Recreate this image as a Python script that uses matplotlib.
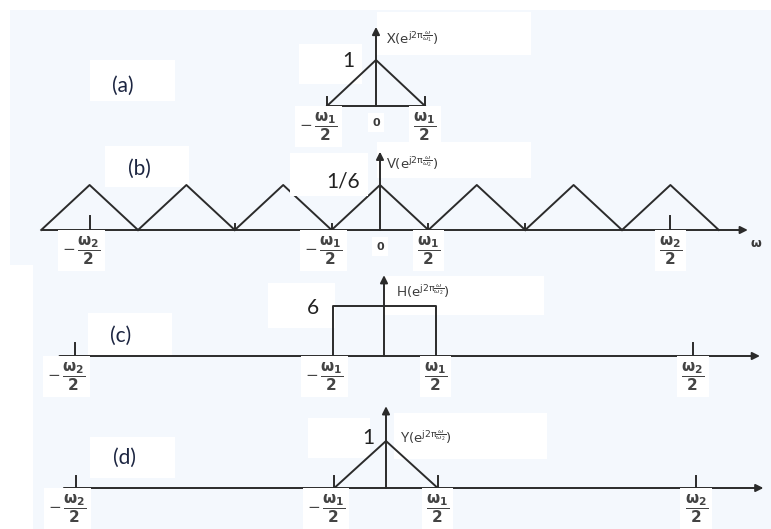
import matplotlib.pyplot as plt
from matplotlib.patches import Rectangle

W, H = 771, 529
LINE = '#2b2b2b'
TEXT = '#3a3a3a'
NAVY = '#1c2541'
BG = '#f4f8fd'

plt.rcParams['font.family'] = ['Lato', 'DejaVu Sans']
plt.rcParams['mathtext.fontset'] = 'dejavusans'

# frequency axis in units of w1/2, so w1/2 -> 1 and w2/2 -> 6
W1 = r'$\dfrac{\mathbf{\omega_1}}{\mathbf{2}}$'
MW1 = r'$-\,\dfrac{\mathbf{\omega_1}}{\mathbf{2}}$'
W2 = r'$\dfrac{\mathbf{\omega_2}}{\mathbf{2}}$'
MW2 = r'$-\,\dfrac{\mathbf{\omega_2}}{\mathbf{2}}$'

# (a) X: a single triangle of height 1
a_x = [-1, 0, 1]
a_y = [0, 1, 0]
a_ticks = [-1, 1]
a_label_pos = [-1, 0, 1]
a_labels = [MW1, '0', W1]

# (b) V: copies of the triangle every w1, height 1/6
b_centers = [-6, -4, -2, 0, 2, 4, 6]
b_peak = 1 / 6
b_big_ticks = [-6, 6]
b_small_ticks = [-3, -1, 1, 3]
b_label_pos = [-6, -1, 0, 1, 6]
b_labels = [MW2, MW1, '0', W1, W2]

# (c) H: ideal low-pass of gain 6 on [-w1/2, w1/2]
c_x = [-1, -1, 1, 1]
c_y = [0, 6, 6, 0]
c_ticks = [-6, 6]
c_label_pos = [-6, -1, 1, 6]
c_labels = [MW2, MW1, W1, W2]

# (d) Y: the filtered output, triangle of height 1
d_x = [-1, 0, 1]
d_y = [0, 1, 0]
d_ticks = [-6, -1, 1, 6]
d_label_pos = [-6, -1, 1, 6]
d_labels = c_labels

fig = plt.figure(figsize=(W / 100, H / 100), dpi=100, facecolor='white')

# pixel canvas for background and label boxes
bg = fig.add_axes([0, 0, 1, 1])
bg.set_xlim(0, W)
bg.set_ylim(H, 0)
bg.axis('off')
bg.add_patch(Rectangle((10, 10), W - 10, 255, fc=BG, ec='none', zorder=0))
bg.add_patch(Rectangle((33, 265), W - 33, H - 265, fc=BG, ec='none', zorder=0))
for x0, y0, x1, y1 in [(377, 12, 531, 55), (299, 44, 362, 84), (90, 60, 175, 101),
                       (105, 146, 189, 187), (377, 142, 531, 178),
                       (88, 313, 172, 356), (268, 283, 335, 328), (384, 276, 544, 315),
                       (90, 437, 175, 478), (308, 418, 370, 458), (394, 413, 547, 459)]:
    bg.add_patch(Rectangle((x0, y0), x1 - x0, y1 - y0, fc='white', ec='none', zorder=1))

for txt, x, y in [('(a)', 123, 86), ('(b)', 139, 169), ('(c)', 121, 336), ('(d)', 125, 458)]:
    bg.text(x, y, txt, fontsize=15, color=NAVY, ha='center', va='center', zorder=3)
bg.text(756, 243, r'$\mathbf{\omega}$', fontsize=9, color=TEXT, ha='center', va='center')


def panel(cx, scale, base, h):
    ax = fig.add_axes([0, 0, 1, 1])
    ax.set_xlim(-cx / scale, (W - cx) / scale)
    ax.set_ylim((base - H) / h, base / h)
    ax.axis('off')
    ax.patch.set_alpha(0)
    return ax


def arrow(ax, start, end):
    ax.annotate('', xy=end, xytext=start,
                arrowprops=dict(arrowstyle='-|>', lw=1.4, color=LINE,
                                mutation_scale=11, shrinkA=0, shrinkB=0))


def ticks(ax, xs, length_px, h):
    for x in xs:
        ax.plot([x, x], [0, length_px / h], color=LINE, lw=1.4)


def tick_labels(ax, xs, labels):
    for x, lab in zip(xs, labels):
        if lab == '0':
            ax.annotate(lab, xy=(x, 0), xytext=(0, -12), textcoords='offset points',
                        ha='center', va='center', fontsize=8, color=TEXT,
                        fontweight='bold', family='DejaVu Sans',
                        bbox=dict(fc='white', ec='none', pad=3))
        else:
            dx = -6 if lab.startswith(r'$-') else 0
            ax.annotate(lab, xy=(x, 0), xytext=(dx, -15), textcoords='offset points',
                        ha='center', va='center', fontsize=11, color='#444444',
                        bbox=dict(fc='white', ec='none', pad=3))


def ylabel(name, sub):
    return name + r'$(\mathrm{e}^{\mathrm{j2\pi}\frac{\omega}{\omega_' + sub + r'}})$'


# (a)
ha_ = 46
ax = panel(376, 49, 106, ha_)
ax.plot([-1, 1], [0, 0], color=LINE, lw=1.4)
ax.plot(a_x, a_y, color=LINE, lw=1.4)
ticks(ax, a_ticks, 9, ha_)
arrow(ax, (0, 0), (0, 1.72))
tick_labels(ax, a_label_pos, a_labels)
ax.text(-0.57, 0.98, '1', fontsize=15, color='#222222', ha='center', va='center')
ax.text(0.2, 1.48, ylabel('X', '1'), fontsize=9.5, color=TEXT, ha='left', va='center')

# (b)
hb = 270
ax = panel(380, 48.4, 230, hb)
arrow(ax, (-6.98, 0), (7.6, 0))
for c in b_centers:
    ax.plot([c - 1, c, c + 1], [0, b_peak, 0], color=LINE, lw=1.4)
ticks(ax, b_big_ticks, 14, hb)
ticks(ax, b_small_ticks, 6, hb)
arrow(ax, (0, 0), (0, 0.29))
tick_labels(ax, b_label_pos, b_labels)
ax.add_patch(Rectangle((-1.86, (230 - 196) / hb), 1.61, 43 / hb,
                       fc='white', ec='none', zorder=4))
ax.text(-0.76, 0.178, '1/6', fontsize=15, color='#222222', ha='center', va='center', zorder=5)
ax.text(0.12, 0.248, ylabel('V', '2'), fontsize=9.5, color=TEXT, ha='left', va='center')

# (c)
hc = 50 / 6
ax = panel(384, 51.5, 356, hc)
arrow(ax, (-6.3, 0), (7.3, 0))
ax.plot(c_x, c_y, color=LINE, lw=1.4)
ticks(ax, c_ticks, 13, hc)
arrow(ax, (0, 0), (0, 9.7))
tick_labels(ax, c_label_pos, c_labels)
ax.text(-1.38, 5.76, '6', fontsize=15, color='#222222', ha='center', va='center')
ax.text(0.23, 7.7, ylabel('H', '2'), fontsize=9.5, color=TEXT, ha='left', va='center')

# (d)
hd = 47
ax = panel(386, 51.7, 488, hd)
arrow(ax, (-6.23, 0), (7.3, 0))
ax.plot(d_x, d_y, color=LINE, lw=1.4)
ticks(ax, d_ticks, 12, hd)
arrow(ax, (0, 0), (0, 1.74))
tick_labels(ax, d_label_pos, d_labels)
ax.text(-0.35, 1.06, '1', fontsize=15, color='#222222', ha='center', va='center')
ax.text(0.27, 1.085, ylabel('Y', '2'), fontsize=9.5, color=TEXT, ha='left', va='center')

fig.savefig('out.png', dpi=100, facecolor='white')
